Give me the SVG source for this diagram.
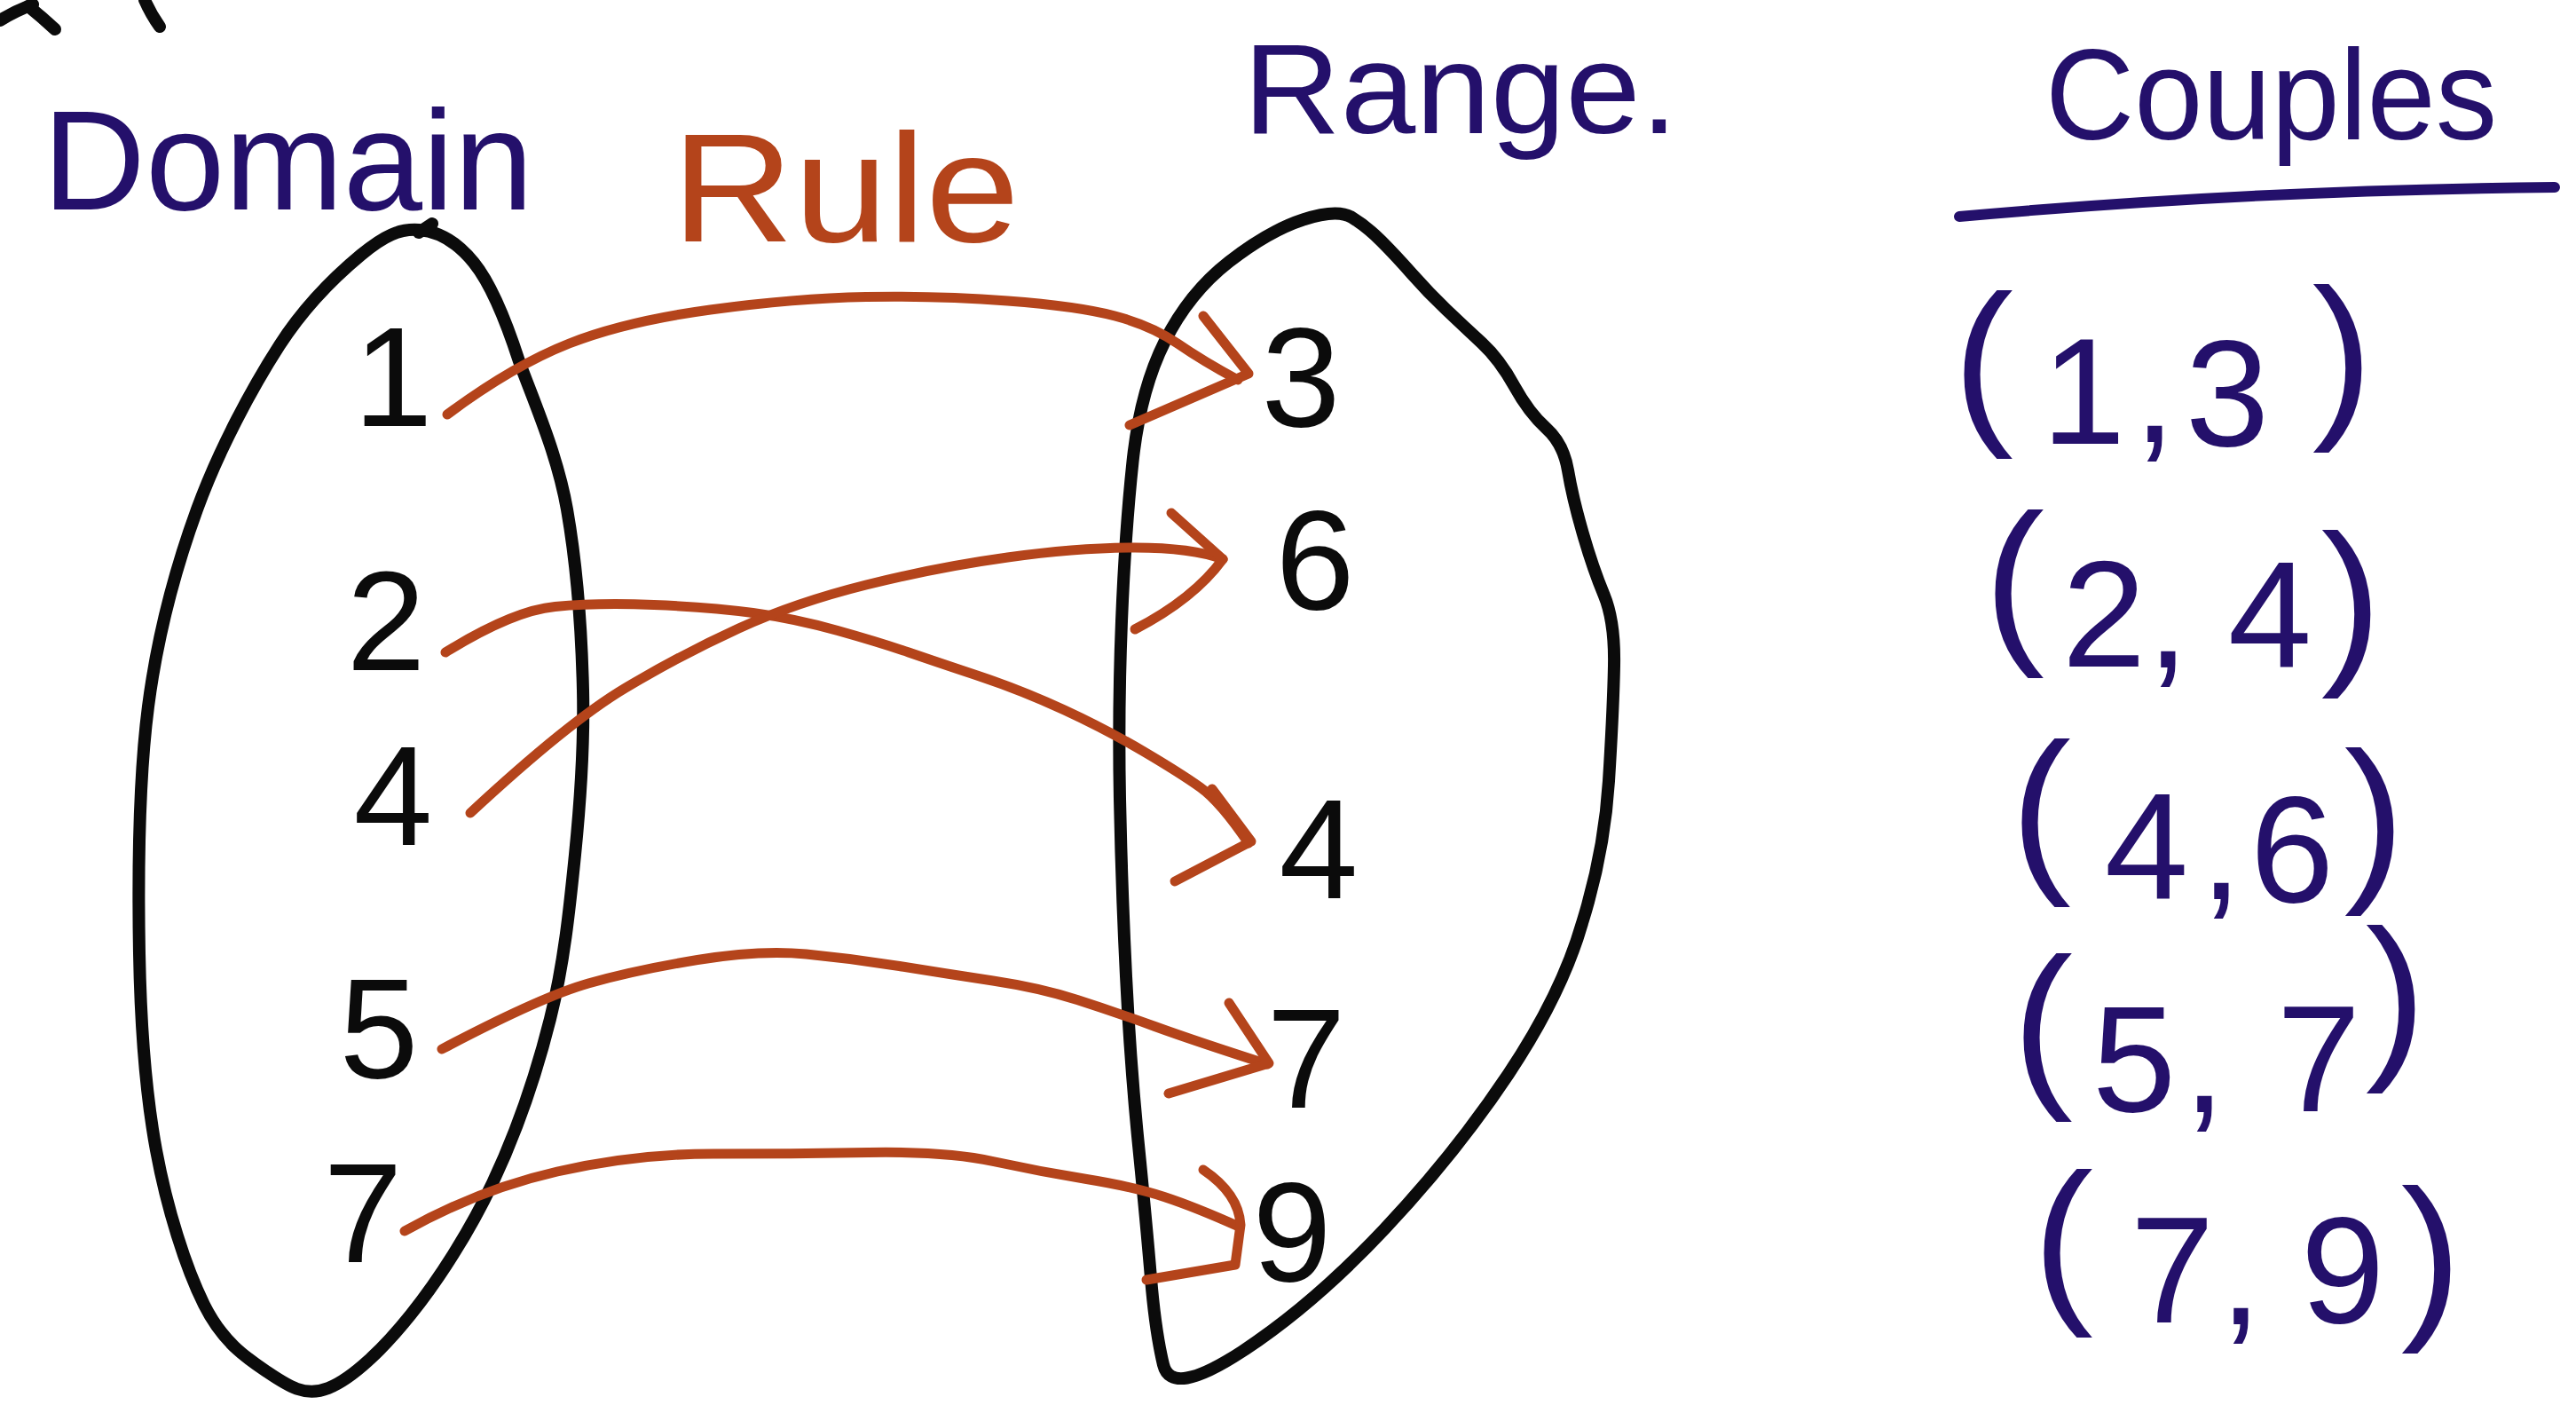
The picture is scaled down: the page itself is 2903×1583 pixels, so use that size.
<svg xmlns="http://www.w3.org/2000/svg" width="2903" height="1583" viewBox="0 0 2903 1583">
<style>
.bg{fill:#ffffff}
.ink{fill:none;stroke:#0b0b0b;stroke-width:14;stroke-linecap:round;stroke-linejoin:round}
.arr{fill:none;stroke:#b4441b;stroke-width:11;stroke-linecap:round;stroke-linejoin:round}
.num{font-family:"Liberation Sans",Arial,sans-serif;font-size:160px;fill:#0b0b0b;text-anchor:middle}
.lbl{font-family:"Liberation Sans",Arial,sans-serif;fill:#24106b}
.rule{font-family:"Liberation Sans",Arial,sans-serif;fill:#b4441b}
.cp{font-family:"Liberation Sans",Arial,sans-serif;font-size:170px;fill:#24106b;text-anchor:middle}
.p{font-size:205px}
.uline{fill:none;stroke:#24106b;stroke-width:12;stroke-linecap:round}
</style>
<rect class="bg" x="0" y="0" width="2903" height="1583"/>

<g id="fragments">
<path class="ink" d="M0,23 Q18,12 37,5"/>
<path class="ink" d="M32,7 Q48,20 62,33"/>
<path class="ink" d="M163,0 Q170,16 180,30"/>
</g>

<g id="labels">
<text class="lbl" x="48" y="236" font-size="160" textLength="553" lengthAdjust="spacingAndGlyphs">Domain</text>
<text class="rule" x="757" y="272" font-size="175" textLength="392" lengthAdjust="spacingAndGlyphs">Rule</text>
<text class="lbl" x="1401" y="150" font-size="145" textLength="490" lengthAdjust="spacingAndGlyphs">Range.</text>
</g>

<g id="domain">
<path class="ink" d="M472,259 C493.7,260.5 514,271.3 534,296 C554,320.7 570,360.7 585,407 C602,453.3 628.2,512.2 639,574 C649.8,635.8 655.5,713.2 657,778 C658.5,842.8 654.2,901.3 648,963 C641.8,1024.7 635.5,1086.3 620,1148 C604.5,1209.7 581.2,1277.5 555,1333 C528.8,1388.5 493.8,1442.5 463,1481 C432.2,1519.5 397.2,1553.3 370,1564 C342.8,1574.7 323.3,1560.7 300,1545 C276.7,1529.3 250.7,1511.5 230,1470 C209.3,1428.5 188.2,1362 176,1296 C163.8,1230 158.5,1157.3 157,1074 C155.5,990.7 156.2,879.3 167,796 C177.8,712.7 197.3,641.8 222,574 C246.7,506.2 284.2,436.8 315,389 C345.8,341.2 380.8,308.7 407,287 C433.2,265.3 450.3,257.5 472,259 Z"/>
<path class="ink" d="M472,262 L487,252"/>
<text class="num" x="443" y="480">1</text>
<text class="num" x="435" y="755">2</text>
<text class="num" x="443" y="952">4</text>
<text class="num" x="427" y="1214">5</text>
<text class="num" x="409" y="1422">7</text>
</g>

<g id="range">
<path class="ink" d="M1468.5,247.5 Q1507,235 1523.5,245 Q1540,255 1556.5,271.5 Q1573,288 1591.5,309 Q1610,330 1630,349 Q1650,368 1670,386.5 Q1690,405 1706.5,435 Q1723,465 1742.5,482.5 Q1762,500 1767,530 Q1772,560 1783.5,600 Q1795,640 1807.5,670 Q1820,700 1819,750 Q1818,800 1813,880 Q1808,960 1783,1040 Q1760,1120 1700,1210 Q1640,1300 1560,1385 Q1480,1470 1400,1522.5 Q1320,1575 1311,1537.5 Q1302,1500 1297,1440 Q1292,1380 1283,1290 Q1274,1200 1269,1100 Q1264,1000 1262,900 Q1260,800 1264,700 Q1268,600 1276.5,520 Q1285,440 1312.5,385 Q1340,330 1385,295 Q1430,260 1468.5,247.5 Z"/>
<text class="num" x="1466" y="480">3</text>
<text class="num" x="1482" y="686">6</text>
<text class="num" x="1486" y="1012">4</text>
<text class="num" x="1472" y="1248">7</text>
<text class="num" x="1456" y="1443">9</text>
</g>

<g id="connectors">
<path class="arr" d="M504,467 Q578,412 641.5,387 Q705,362 800.5,349 Q896,336 976,334.5 Q1056,333 1135.5,339 Q1215,345 1256.5,356 Q1298,367 1327,387 Q1356,407 1395,428"/>
<path class="arr" d="M1356,356 L1407,421 L1273,479"/>
<path class="arr" d="M502,735 Q578,688 625.5,683.5 Q673,679 737,681.5 Q801,684 848.5,690.5 Q896,697 944,710.5 Q992,724 1024,735 Q1056,746 1104,762 Q1152,778 1199.5,800 Q1247,822 1288.5,846.5 Q1330,871 1352.5,887 Q1375,903 1407,950"/>
<path class="arr" d="M1366,889 L1410,948 L1324,993"/>
<path class="arr" d="M530,916 Q641,813 705,775 Q769,737 832.5,708 Q896,679 976,659 Q1056,639 1135.5,628 Q1215,617 1279,617 Q1343,617 1378,630"/>
<path class="arr" d="M1320,578 L1378,630 Q1345,675 1279,709"/>
<path class="arr" d="M498,1182 Q610,1123 663,1108 Q716,1093 786,1081.5 Q856,1070 908.5,1075 Q961,1080 1013.5,1088.5 Q1066,1097 1119,1105 Q1172,1113 1214,1126.5 Q1256,1140 1301.5,1156.5 Q1347,1173 1428,1199"/>
<path class="arr" d="M1385,1130 L1430,1198 L1317,1232"/>
<path class="arr" d="M456,1387 Q540,1340 628,1320 Q716,1300 803.5,1300 Q891,1300 978.5,1298.5 Q1066,1297 1119,1308.5 Q1172,1320 1224.5,1328.5 Q1277,1337 1312,1348.5 Q1347,1360 1396,1382"/>
<path class="arr" d="M1356,1318 Q1396,1345 1398,1380 L1392,1425 L1292,1442"/>
</g>

<g id="couples">
<text class="lbl" x="2305" y="157" font-size="145" textLength="509" lengthAdjust="spacingAndGlyphs">Couples</text>
<path class="uline" d="M2208,244 Q2540,214 2879,211"/>
<text class="cp"><tspan class="p" x="2235" y="475">(</tspan><tspan x="2348" y="500">1</tspan><tspan x="2428" y="498">,</tspan><tspan x="2510" y="502">3</tspan><tspan class="p" x="2640" y="468">)</tspan></text>
<text class="cp"><tspan class="p" x="2270" y="722">(</tspan><tspan x="2371" y="751">2</tspan><tspan x="2443" y="752">,</tspan><tspan x="2558" y="752">4</tspan><tspan class="p" x="2650" y="745">)</tspan></text>
<text class="cp"><tspan class="p" x="2300" y="980">(</tspan><tspan x="2419" y="1013">4</tspan><tspan x="2503" y="1013">,</tspan><tspan x="2583" y="1016">6</tspan><tspan class="p" x="2676" y="990">)</tspan></text>
<text class="cp"><tspan class="p" x="2302" y="1222">(</tspan><tspan x="2405" y="1252">5</tspan><tspan x="2484" y="1253">,</tspan><tspan x="2613" y="1252">7</tspan><tspan class="p" x="2700" y="1190">)</tspan></text>
<text class="cp"><tspan class="p" x="2325" y="1465">(</tspan><tspan x="2448" y="1490">7</tspan><tspan x="2525" y="1492">,</tspan><tspan x="2640" y="1490">9</tspan><tspan class="p" x="2740" y="1483">)</tspan></text>
</g>
</svg>
